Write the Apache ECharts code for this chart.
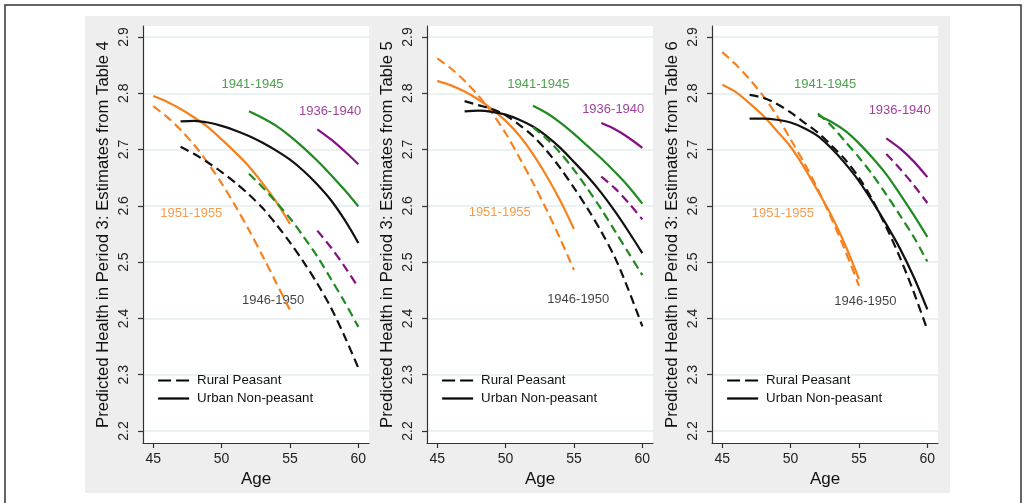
<!DOCTYPE html>
<html><head><meta charset="utf-8">
<script src="https://cdn.jsdelivr.net/npm/echarts@6/dist/echarts.min.js"></script>
<style>html,body{margin:0;padding:0;background:#fff}#c{width:1028px;height:503px}</style>
</head><body><div id="c"></div>
<script>
// ---------- data ----------
const ages5155 = [45,46,47,48,49,50,51,52,53,54,55];
const ages4650 = [47,48,49,50,51,52,53,54,55,56,57,58,59,60];
const ages4145 = [52,53,54,55,56,57,58,59,60];
const ages3640 = [57,58,59,60];
const xTicks = [45,50,55,60];
const yTicks = [2.2,2.3,2.4,2.5,2.6,2.7,2.8,2.9];
const panelTitles = [
  'Predicted Health in Period 3: Estimates from Table 4',
  'Predicted Health in Period 3: Estimates from Table 5',
  'Predicted Health in Period 3: Estimates from Table 6'
];
const cohorts = ['1951-1955','1946-1950','1941-1945','1936-1940'];
const groups = ['Rural Peasant','Urban Non-peasant'];

// Table 4
const t4_5155_rural = [2.777,2.758,2.735,2.708,2.676,2.640,2.600,2.557,2.511,2.463,2.415];
const t4_5155_urban = [2.795,2.785,2.772,2.757,2.740,2.718,2.695,2.670,2.640,2.607,2.568];
const t4_4650_rural = [2.705,2.692,2.677,2.660,2.641,2.620,2.596,2.567,2.535,2.500,2.462,2.419,2.368,2.312];
const t4_4650_urban = [2.750,2.751,2.748,2.742,2.734,2.724,2.712,2.698,2.682,2.662,2.638,2.610,2.575,2.534];
const t4_4145_rural = [2.657,2.633,2.606,2.578,2.545,2.510,2.470,2.429,2.385];
const t4_4145_urban = [2.768,2.756,2.742,2.724,2.703,2.680,2.655,2.628,2.599];
const t4_3640_rural = [2.556,2.526,2.492,2.455];
const t4_3640_urban = [2.736,2.718,2.697,2.674];
// Table 5
const t5_5155_rural = [2.862,2.844,2.822,2.796,2.765,2.729,2.686,2.641,2.593,2.541,2.486];
const t5_5155_urban = [2.822,2.814,2.803,2.789,2.772,2.751,2.725,2.692,2.653,2.609,2.559];
const t5_4650_rural = [2.786,2.779,2.772,2.761,2.744,2.724,2.698,2.667,2.632,2.595,2.554,2.508,2.450,2.386];
const t5_4650_urban = [2.768,2.769,2.767,2.762,2.753,2.741,2.724,2.703,2.678,2.652,2.623,2.590,2.554,2.516];
const t5_4145_rural = [2.740,2.719,2.694,2.664,2.630,2.594,2.555,2.516,2.477];
const t5_4145_urban = [2.778,2.765,2.748,2.728,2.706,2.684,2.660,2.634,2.604];
const t5_3640_rural = [2.652,2.631,2.605,2.576];
const t5_3640_urban = [2.747,2.736,2.721,2.703];
// Table 6
const t6_5155_rural = [2.873,2.851,2.825,2.795,2.760,2.718,2.676,2.629,2.577,2.520,2.458];
const t6_5155_urban = [2.815,2.802,2.782,2.760,2.733,2.705,2.668,2.626,2.582,2.530,2.470];
const t6_4650_rural = [2.797,2.792,2.781,2.766,2.748,2.730,2.707,2.682,2.650,2.610,2.562,2.508,2.447,2.380];
const t6_4650_urban = [2.755,2.755,2.753,2.748,2.738,2.724,2.702,2.675,2.644,2.607,2.567,2.524,2.474,2.416];
const t6_4145_rural = [2.764,2.742,2.714,2.686,2.655,2.620,2.583,2.545,2.501];
const t6_4145_urban = [2.761,2.749,2.733,2.711,2.685,2.656,2.621,2.584,2.545];
const t6_3640_rural = [2.692,2.666,2.637,2.605];
const t6_3640_urban = [2.720,2.702,2.679,2.651];

// ---------- build ----------
const FONT = '"Liberation Sans", Arial, sans-serif';
const colors = {'1951-1955':'#f5821f','1946-1950':'#111111','1941-1945':'#1f8a1f','1936-1940':'#850f85'};
const agesOf = {'1951-1955':ages5155,'1946-1950':ages4650,'1941-1945':ages4145,'1936-1940':ages3640};
const tables = [
  {'1951-1955':[t4_5155_rural,t4_5155_urban],'1946-1950':[t4_4650_rural,t4_4650_urban],'1941-1945':[t4_4145_rural,t4_4145_urban],'1936-1940':[t4_3640_rural,t4_3640_urban]},
  {'1951-1955':[t5_5155_rural,t5_5155_urban],'1946-1950':[t5_4650_rural,t5_4650_urban],'1941-1945':[t5_4145_rural,t5_4145_urban],'1936-1940':[t5_3640_rural,t5_3640_urban]},
  {'1951-1955':[t6_5155_rural,t6_5155_urban],'1946-1950':[t6_4650_rural,t6_4650_urban],'1941-1945':[t6_4145_rural,t6_4145_urban],'1936-1940':[t6_3640_rural,t6_3640_urban]}
];
// label anchors (data coordinates) for cohort annotations in each panel
const labelAnchors = [
  {'1941-1945':[52.26,2.815],'1936-1940':[57.93,2.767],'1951-1955':[47.78,2.586],'1946-1950':[53.76,2.432]},
  {'1941-1945':[52.39,2.816],'1936-1940':[57.87,2.772],'1951-1955':[49.57,2.588],'1946-1950':[55.31,2.434]},
  {'1941-1945':[52.53,2.815],'1936-1940':[57.98,2.770],'1951-1955':[49.43,2.587],'1946-1950':[55.47,2.430]}
];

const gridLefts = [143, 427, 712];
const PW = 226, PT = 26, PH = 417;
const DASH = [9,5];
const LW = 2.2;

const grid = [], xAxis = [], yAxis = [], series = [], legend = [];
gridLefts.forEach((gl, p) => {
  grid.push({left: gl, top: PT, width: PW, height: PH, show: true, backgroundColor: '#ffffff', borderWidth: 0});
  xAxis.push({
    type: 'value', gridIndex: p, min: 44.25, max: 60.78,
    name: 'Age', nameLocation: 'middle', nameGap: 22,
    nameTextStyle: {fontFamily: FONT, fontSize: 17, color: '#111'},
    axisLine: {show: true, onZero: false, lineStyle: {color: '#333', width: 1.2}},
    axisTick: {show: true, length: 5, customValues: xTicks, lineStyle: {color: '#333', width: 1.2}},
    axisLabel: {customValues: xTicks, margin: 9, fontFamily: FONT, fontSize: 14, color: '#222', formatter: v => String(v)},
    splitLine: {show: false}
  });
  yAxis.push({
    type: 'value', gridIndex: p, min: 2.1787, max: 2.9195,
    name: panelTitles[p], nameLocation: 'middle', nameGap: 31,
    nameTextStyle: {fontFamily: FONT, fontSize: 16.7, color: '#111'},
    axisLine: {show: true, onZero: false, lineStyle: {color: '#333', width: 1.2}},
    axisTick: {show: true, length: 5, customValues: yTicks, lineStyle: {color: '#333', width: 1.2}},
    axisLabel: {customValues: yTicks, rotate: 90, margin: 12, fontFamily: FONT, fontSize: 14, color: '#222', formatter: v => v.toFixed(1)},
    splitLine: {show: true, lineStyle: {color: '#e3ecee', width: 1.5}}
  });
  const tbl = tables[p];
  cohorts.forEach(c => {
    const ages = agesOf[c];
    [0,1].forEach(g => {
      series.push({
        type: 'line', name: c + ' ' + groups[g] + ' P' + (p+1),
        xAxisIndex: p, yAxisIndex: p, symbol: 'none', smooth: 0.3, silent: true,
        lineStyle: {color: colors[c], width: LW, type: g === 0 ? DASH : 'solid'},
        data: ages.map((a, i) => [a, tbl[c][g][i]]), z: 3
      });
    });
  });
  series.push({
    type: 'scatter', name: 'labels P' + (p+1), xAxisIndex: p, yAxisIndex: p, silent: true,
    symbolSize: 1, itemStyle: {color: 'rgba(0,0,0,0)'}, z: 2,
    label: {show: true, position: 'inside', formatter: '{b}', fontFamily: FONT, fontSize: 13},
    data: cohorts.map(c => ({name: c, value: labelAnchors[p][c], label: {color: colors[c]}}))
  });
  legend.push({
    left: gl + 14, top: 374, orient: 'vertical', itemWidth: 31, itemHeight: 14, itemGap: 5,
    selectedMode: false, padding: 0,
    itemStyle: {opacity: 0, borderWidth: 0},
    textStyle: {fontFamily: FONT, fontSize: 13.3, color: '#111', padding: [0,0,0,3]},
    data: [
      {name: groups[0], lineStyle: {type: [13,5], width: 2.2, color: '#000'}},
      {name: groups[1], lineStyle: {type: 'solid', width: 2.2, color: '#000'}}
    ]
  });
});
// legend proxy series
groups.forEach((g, i) => series.push({
  type: 'line', name: g, xAxisIndex: 0, yAxisIndex: 0, symbol: 'none', data: [],
  itemStyle: {color: '#000', opacity: 0},
  lineStyle: {color: '#000', width: 2.2, type: i === 0 ? [13,5] : 'solid'}
}));

const chart = echarts.init(document.getElementById('c'), null, {renderer: 'canvas'});
chart.setOption({
  animation: false,
  backgroundColor: '#ffffff',
  textStyle: {fontFamily: FONT},
  graphic: [
    {type: 'rect', z: -10, shape: {x: 85, y: 16, width: 865, height: 477}, style: {fill: '#eeeeee'}, silent: true},
    {type: 'rect', z: -9, shape: {x: 5, y: 5, width: 1016, height: 530}, style: {fill: 'none', stroke: '#333', lineWidth: 1.5}, silent: true}
  ],
  grid, xAxis, yAxis, legend, series
});
</script>
</body></html>
